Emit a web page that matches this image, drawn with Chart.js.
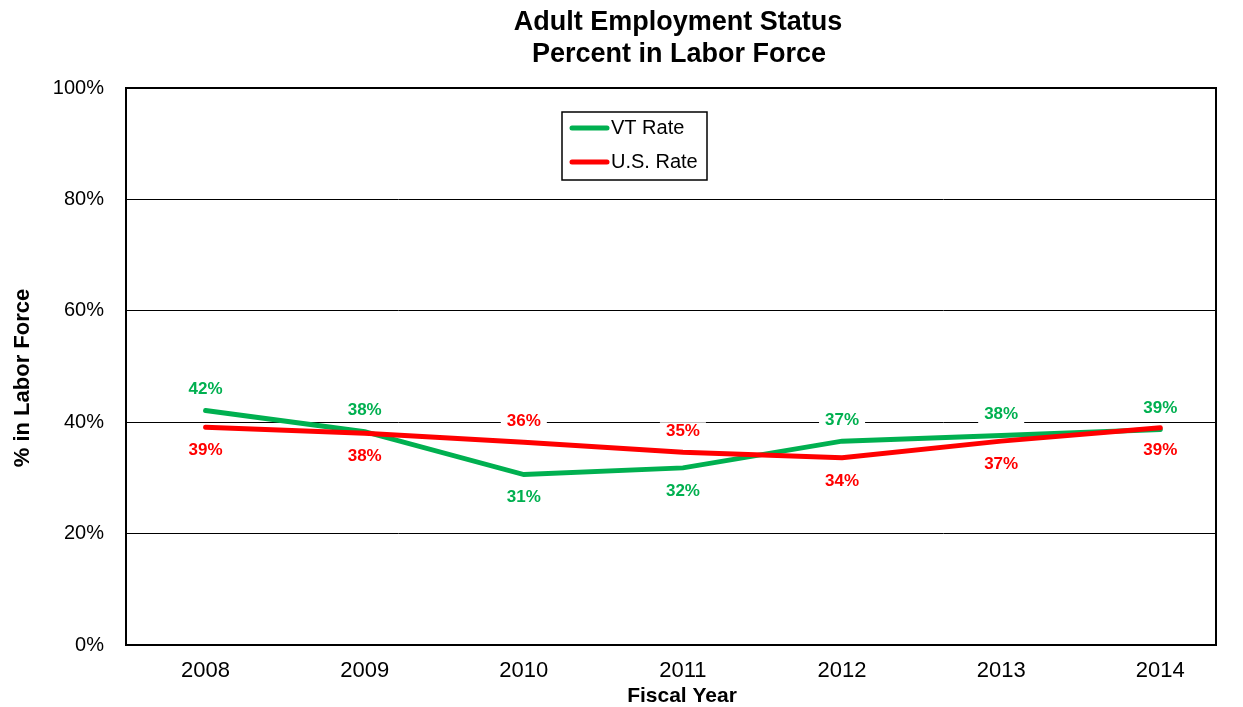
<!DOCTYPE html>
<html>
<head>
<meta charset="utf-8">
<script src="https://cdn.jsdelivr.net/npm/chart.js@4.4.1/dist/chart.umd.min.js"></script>
<style>
  html, body { margin: 0; padding: 0; background: #fff; }
  #wrap { width: 1243px; height: 707px; }
</style>
</head>
<body>
<div id="wrap"><canvas id="lineChart"></canvas></div>
<script>
// fiscal years and labor force rates (%)
const years = [2008, 2009, 2010, 2011, 2012, 2013, 2014];
const vtRate = [42.1, 38.3, 30.6, 31.8, 36.6, 37.6, 38.7];
const usRate = [39.1, 38.0, 36.4, 34.6, 33.6, 36.6, 39.0];
const yTicks = [0, 20, 40, 60, 80, 100];

const FONT = "'Liberation Sans', Arial, sans-serif";

// frame, titles, legend box and value labels
const decorations = {
    id: "decorations",
    afterDatasetsDraw(chart) {
        const ctx = chart.ctx;
        const sets = chart.data.datasets;

        // value labels with white boxes
        ctx.save();
        ctx.font = "bold 17px " + FONT;
        ctx.textAlign = "center";
        ctx.textBaseline = "middle";
        sets.forEach((ds, di) => {
            const meta = chart.getDatasetMeta(di);
            const other = sets[1 - di].data;
            meta.data.forEach((pt, i) => {
                const v = ds.data[i].y;
                const o = other[i].y;
                const above = di === 0 ? v >= o - 0.5 : v > o + 0.5;
                const txt = Math.round(v) + "%";
                const y = pt.y + (above ? -21 : 23);
                const w = ctx.measureText(txt).width + 12;
                ctx.fillStyle = "#fff";
                ctx.fillRect(pt.x - w / 2, y - 9, w, 18);
                ctx.fillStyle = ds.borderColor;
                ctx.fillText(txt, pt.x, y);
            });
        });
        ctx.restore();
    },
    afterDraw(chart) {
        const ctx = chart.ctx;
        const area = chart.chartArea;
        ctx.save();

        // plot frame
        ctx.strokeStyle = "#000";
        ctx.lineWidth = 2;
        ctx.strokeRect(area.left, area.top, area.right - area.left, area.bottom - area.top);

        // chart title
        ctx.fillStyle = "#000";
        ctx.textAlign = "center";
        ctx.textBaseline = "alphabetic";
        ctx.font = "bold 27px " + FONT;
        ctx.fillText("Adult Employment Status", 678, 30);
        ctx.fillText("Percent in Labor Force", 679, 62);

        // axis titles
        ctx.textBaseline = "middle";
        ctx.font = "bold 21px " + FONT;
        ctx.fillText("Fiscal Year", 682, 696);
        ctx.save();
        ctx.translate(23, 378);
        ctx.rotate(-Math.PI / 2);
        ctx.font = "bold 22px " + FONT;
        ctx.fillText("% in Labor Force", 0, 0);
        ctx.restore();

        // legend
        const lx = 562, ly = 112, lw = 145, lh = 68;
        ctx.fillStyle = "#fff";
        ctx.fillRect(lx, ly, lw, lh);
        ctx.lineWidth = 1.5;
        ctx.strokeStyle = "#000";
        ctx.strokeRect(lx, ly, lw, lh);
        ctx.font = "20px " + FONT;
        ctx.textAlign = "left";
        chart.data.datasets.forEach((ds, i) => {
            const y = ly + 16 + i * 34;
            ctx.strokeStyle = ds.borderColor;
            ctx.lineWidth = 5;
            ctx.lineCap = "round";
            ctx.beginPath();
            ctx.moveTo(lx + 10, y);
            ctx.lineTo(lx + 45, y);
            ctx.stroke();
            ctx.fillStyle = "#000";
            ctx.fillText(ds.label, lx + 49, y);
        });
        ctx.restore();
    }
};

new Chart(document.getElementById("lineChart"), {
    type: "line",
    data: {
        datasets: [{
            label: "VT Rate",
            data: years.map((yr, i) => ({ x: yr, y: vtRate[i] })),
            borderColor: "#00b050",
            borderWidth: 5,
            borderCapStyle: "round",
            pointRadius: 0,
            tension: 0,
            order: 1
        }, {
            label: "U.S. Rate",
            data: years.map((yr, i) => ({ x: yr, y: usRate[i] })),
            borderColor: "#ff0000",
            borderWidth: 5,
            borderCapStyle: "round",
            pointRadius: 0,
            tension: 0,
            order: 0
        }]
    },
    options: {
        responsive: true,
        maintainAspectRatio: false,
        animation: false,
        layout: { padding: { top: 88, right: 27, left: 0, bottom: 0 } },
        plugins: {
            legend: { display: false },
            title: { display: false },
            tooltip: { enabled: false }
        },
        scales: {
            x: {
                type: "linear",
                min: 2007.5,
                max: 2014.35,
                afterBuildTicks: (s) => { s.ticks = years.map(v => ({ value: v })); },
                afterFit: (s) => { s.height = 62; },
                grid: { display: false, drawTicks: false },
                border: { display: false },
                ticks: {
                    padding: 13,
                    color: "#000",
                    font: { family: FONT, size: 22 },
                    callback: (v) => String(v)
                }
            },
            y: {
                min: 0,
                max: 100,
                afterBuildTicks: (s) => { s.ticks = yTicks.map(v => ({ value: v })); },
                afterFit: (s) => { s.width = 126; },
                grid: { color: "#000", lineWidth: 1, drawTicks: false },
                border: { display: false },
                ticks: {
                    padding: 22,
                    color: "#000",
                    font: { family: FONT, size: 20 },
                    callback: (v) => v + "%"
                }
            }
        }
    },
    plugins: [decorations]
});
</script>
</body>
</html>
